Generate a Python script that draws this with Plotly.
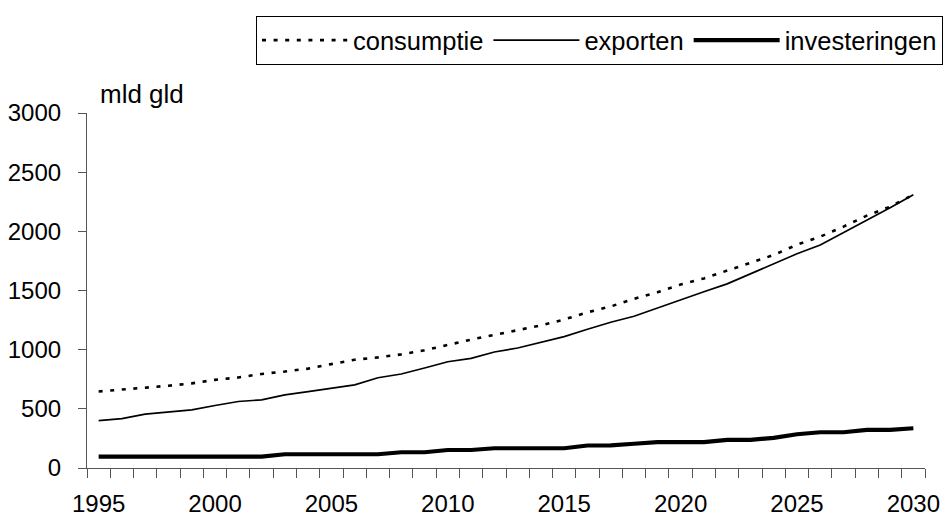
import plotly.graph_objects as go

years = list(range(1995, 2031))

consumptie = [647, 662, 681, 695, 715, 745, 765, 795, 815, 840,
              878, 915, 935, 960, 995, 1042, 1085, 1125, 1165, 1205,
              1255, 1316, 1365, 1430, 1485, 1550, 1602, 1670, 1738, 1800,
              1887, 1955, 2040, 2133, 2208, 2310]

exporten = [400, 418, 455, 472, 491, 528, 562, 576, 618, 645,
            672, 703, 763, 794, 845, 898, 926, 980, 1014, 1062,
            1110, 1172, 1232, 1282, 1353, 1418, 1489, 1556, 1640, 1725,
            1810, 1885, 1990, 2090, 2200, 2310]

investeringen = [96, 96, 96, 96, 96, 96, 96, 96, 116, 116,
                 116, 116, 116, 133, 133, 152, 152, 167, 167, 167,
                 167, 190, 192, 205, 218, 218, 218, 237, 237, 255,
                 285, 302, 302, 322, 322, 336]

x_ticks = [1995, 2000, 2005, 2010, 2015, 2020, 2025, 2030]
y_ticks = [0, 500, 1000, 1500, 2000, 2500, 3000]
unit_label = "mld gld"

FONT = "Arial, Liberation Sans, sans-serif"
AXIS_COLOR = "#555555"
W, H = 943, 516

fig = go.Figure()
fig.add_trace(go.Scatter(x=years, y=consumptie, name="consumptie", mode="lines",
                         line=dict(color="black", width=2.6, dash="4px,7.6px")))
fig.add_trace(go.Scatter(x=years, y=exporten, name="exporten", mode="lines",
                         line=dict(color="black", width=1.7)))
fig.add_trace(go.Scatter(x=years, y=investeringen, name="investeringen", mode="lines",
                         line=dict(color="black", width=4.2)))

fig.update_layout(
    width=W, height=H,
    margin=dict(l=87, r=18, t=113, b=48, autoexpand=False),
    paper_bgcolor="white", plot_bgcolor="white",
    font=dict(family=FONT, size=24, color="black"),
    showlegend=True,
    legend=dict(
        orientation="h",
        xref="container", yref="container",
        x=256 / W, xanchor="left",
        y=1 - 16 / H, yanchor="top",
        bordercolor="black", borderwidth=1,
        font=dict(family=FONT, size=25.5, color="black"),
        itemwidth=86,
        traceorder="normal",
    ),
    xaxis=dict(
        range=[1994.5, 2030.5],
        tickvals=x_ticks,
        ticks="",
        showline=True, linecolor=AXIS_COLOR, linewidth=1.2,
        showgrid=False, zeroline=False,
        ticklabelstandoff=14,
        tickfont=dict(size=24),
        minor=dict(tick0=1994.5, dtick=1, ticks="outside", ticklen=9,
                   tickcolor=AXIS_COLOR, tickwidth=1.2, showgrid=False),
    ),
    yaxis=dict(
        range=[0, 3000],
        tickvals=y_ticks,
        ticks="outside", ticklen=8, tickcolor=AXIS_COLOR, tickwidth=1.2,
        showline=True, linecolor=AXIS_COLOR, linewidth=1.2,
        showgrid=False, zeroline=False,
        ticklabelstandoff=12,
        tickfont=dict(size=24),
    ),
    annotations=[dict(
        text=unit_label, xref="paper", yref="paper",
        x=(98 - 87) / 838, xanchor="left",
        y=1, yanchor="bottom", yshift=2,
        showarrow=False, font=dict(family=FONT, size=26, color="black"),
    )],
)

fig.write_html("out.html")
